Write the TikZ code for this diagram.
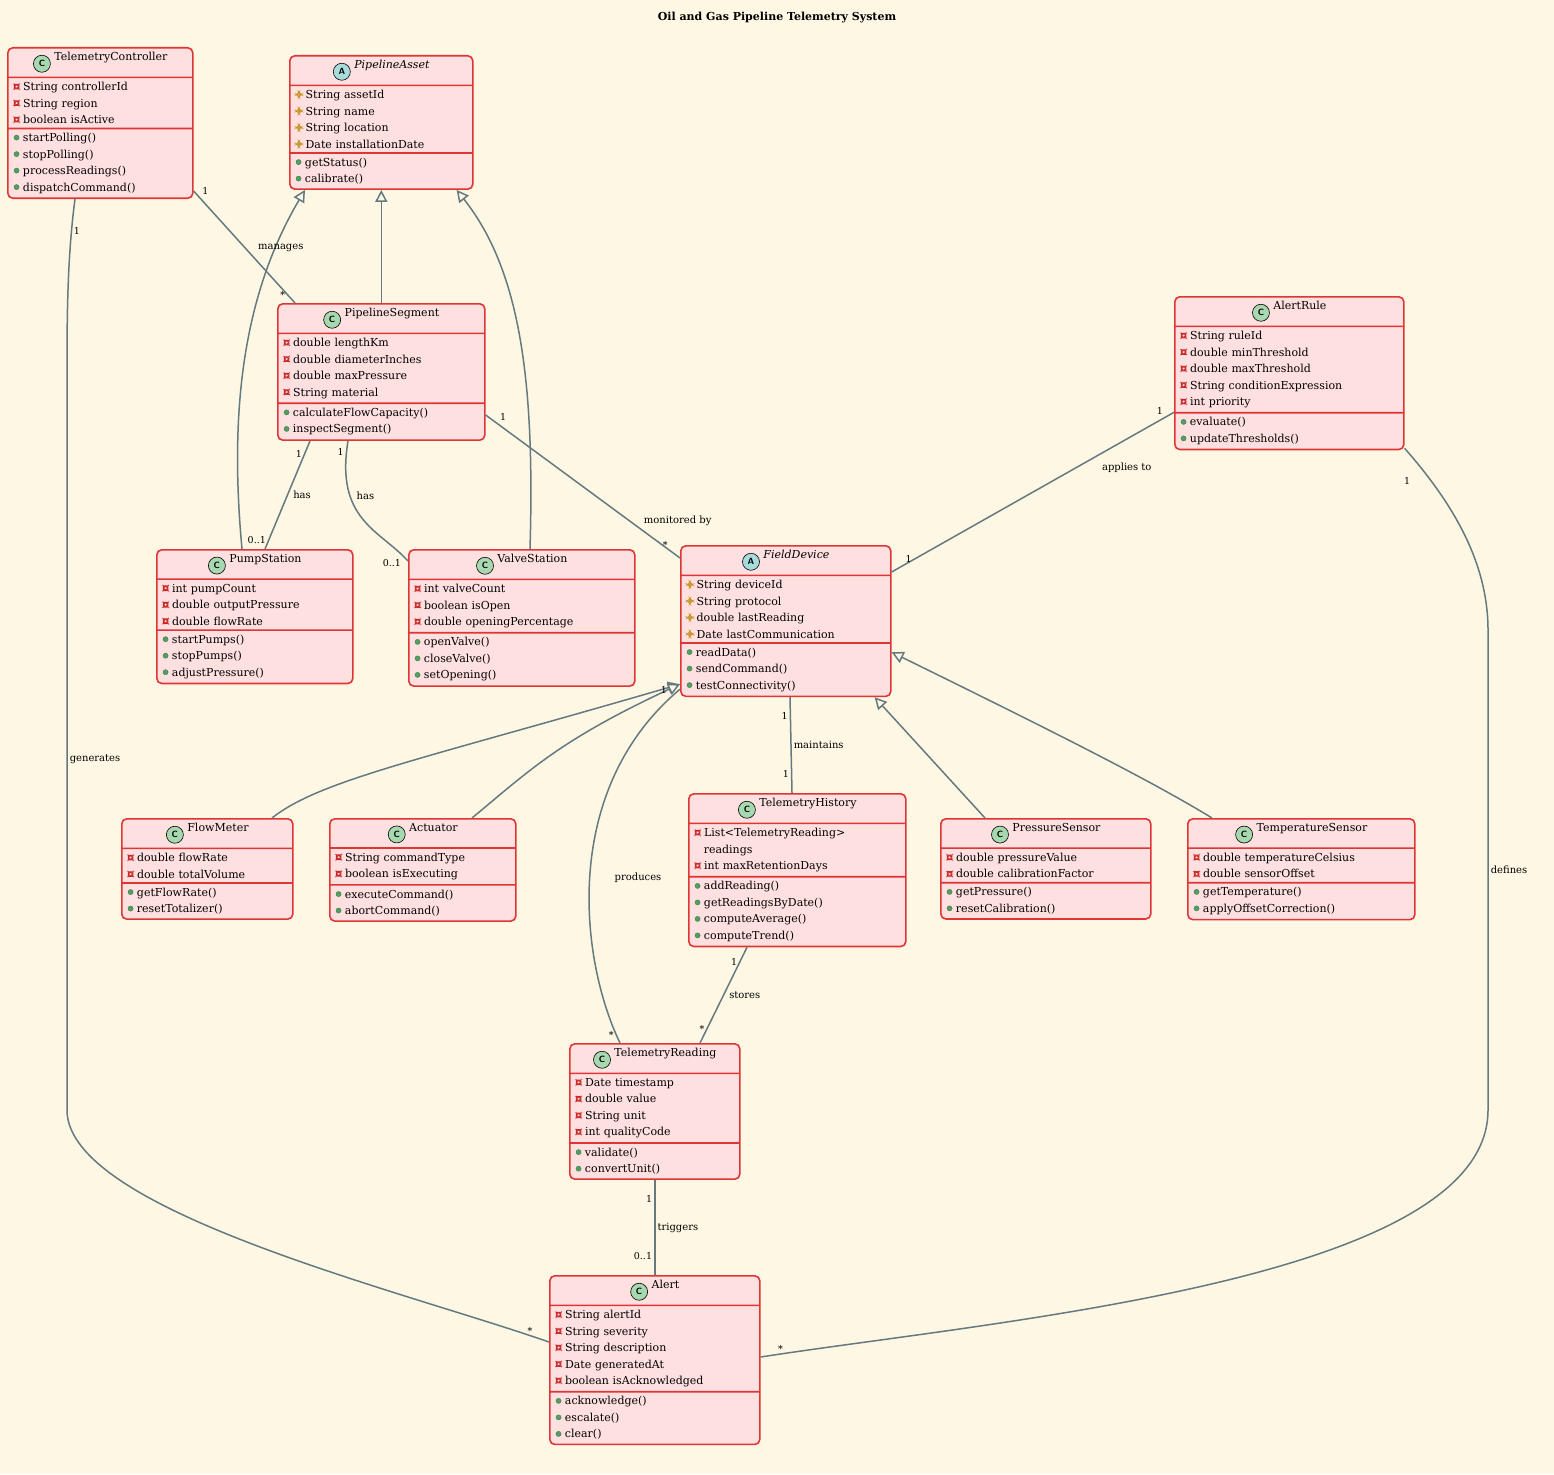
\documentclass[tikz,border=0pt]{standalone}
\usepackage{fontspec}
\setmainfont{DejaVu Serif}
\usetikzlibrary{arrows.meta,positioning,shapes.multipart,calc}
\definecolor{bgpaper}{HTML}{FEF7E4}
\definecolor{boxfill}{HTML}{FFE0E0}
\definecolor{boxline}{HTML}{E03535}
\definecolor{linkgray}{HTML}{657A80}
\definecolor{iconC}{HTML}{A8D8B0}
\definecolor{iconA}{HTML}{A8DCDC}
\definecolor{privred}{HTML}{C82828}
\definecolor{protyel}{HTML}{C89628}
\definecolor{pubgreen}{HTML}{50A060}
% visibility markers
\newcommand\pv{\tikz[baseline=-0.25ex]\draw[privred,line width=.6pt] (0,0) rectangle (5pt,5pt);\ }
\newcommand\pt{\tikz[baseline=-0.25ex]\draw[protyel,line width=.6pt] (2.8pt,-0.3pt) -- (5.6pt,2.5pt) -- (2.8pt,5.3pt) -- (0,2.5pt) -- cycle;\ }
\newcommand\pb{\tikz[baseline=-0.25ex]\fill[pubgreen,draw=pubgreen!70!black,line width=.3pt] (2.6pt,2.6pt) circle (2.6pt);\ }
% class icons
\newcommand\icon[2]{\tikz[baseline=-0.6ex]\node[circle,draw=black,line width=.6pt,fill=#1,inner sep=0pt,minimum size=17pt,font=\sffamily\bfseries\small]{#2};}
\newcommand\umlclass[7]{%
  \node[umlbox, text width=#3, anchor=north west] (#1) at (#2)
    {\centering #4\ #5\par\nodepart{two}#6\nodepart{three}#7};}
\tikzset{
    %Define style for class boxes
    umlbox/.style={
           rectangle split,
           rectangle split parts=3,
           rounded corners=5pt,
           draw=boxline, line width=1.6pt,
           fill=boxfill,
           inner xsep=6pt, inner ysep=4pt,
           align=left,
           font=\fontsize{11}{16.5}\selectfont},
    % Define link styles
    link/.style={draw=linkgray, line width=1.5pt},
    isa/.style={link, -{Triangle[open,length=12pt,width=12pt,fill=bgpaper]}},
    mult/.style={font=\fontsize{9.5}{11}\selectfont, inner sep=2pt},
    lbl/.style={font=\fontsize{10}{12}\selectfont, inner sep=2pt}
}
\begin{document}
\begin{tikzpicture}[x=1pt,y=-1pt]
\fill[bgpaper] (0,0) rectangle (1554,1474);
\useasboundingbox (0,0) rectangle (1554,1474);
\node[font=\fontsize{11}{13}\selectfont\bfseries] (title) at (777,18) {Oil and Gas Pipeline Telemetry System};
%top row
\umlclass{ctrl}{7,47}{173pt}{\icon{iconC}{C}}{TelemetryController}
  {\pv String controllerId\\\pv String region\\\pv boolean isActive}
  {\pb startPolling()\\\pb stopPolling()\\\pb processReadings()\\\pb dispatchCommand()}
\umlclass{asset}{289,55}{171pt}{\icon{iconA}{A}}{\textit{PipelineAsset}}
  {\pt String assetId\\\pt String name\\\pt String location\\\pt Date installationDate}
  {\pb getStatus()\\\pb calibrate()}
\umlclass{seg}{277,303}{195pt}{\icon{iconC}{C}}{PipelineSegment}
  {\pv double lengthKm\\\pv double diameterInches\\\pv double maxPressure\\\pv String material}
  {\pb calculateFlowCapacity()\\\pb inspectSegment()}
\umlclass{rule}{1174,296}{217pt}{\icon{iconC}{C}}{AlertRule}
  {\pv String ruleId\\\pv double minThreshold\\\pv double maxThreshold\\\pv String conditionExpression\\\pv int priority}
  {\pb evaluate()\\\pb updateThresholds()}
%stations and field device
\umlclass{pump}{156,549}{184pt}{\icon{iconC}{C}}{PumpStation}
  {\pv int pumpCount\\\pv double outputPressure\\\pv double flowRate}
  {\pb startPumps()\\\pb stopPumps()\\\pb adjustPressure()}
\umlclass{valve}{408,549}{214pt}{\icon{iconC}{C}}{ValveStation}
  {\pv int valveCount\\\pv boolean isOpen\\\pv double openingPercentage}
  {\pb openValve()\\\pb closeValve()\\\pb setOpening()}
\umlclass{dev}{680,545}{198pt}{\icon{iconA}{A}}{\textit{FieldDevice}}
  {\pt String deviceId\\\pt String protocol\\\pt double lastReading\\\pt Date lastCommunication}
  {\pb readData()\\\pb sendCommand()\\\pb testConnectivity()}
%device row
\umlclass{flow}{121,818}{159pt}{\icon{iconC}{C}}{FlowMeter}
  {\pv double flowRate\\\pv double totalVolume}
  {\pb getFlowRate()\\\pb resetTotalizer()}
\umlclass{act}{329,818}{174pt}{\icon{iconC}{C}}{Actuator}
  {\pv String commandType\\\pv boolean isExecuting}
  {\pb executeCommand()\\\pb abortCommand()}
\umlclass{hist}{688,793}{205pt}{\icon{iconC}{C}}{TelemetryHistory}
  {\pv List<TelemetryReading>\\\hspace*{9pt}readings\\\pv int maxRetentionDays}
  {\pb addReading()\\\pb getReadingsByDate()\\\pb computeAverage()\\\pb computeTrend()}
\umlclass{press}{940,818}{198pt}{\icon{iconC}{C}}{PressureSensor}
  {\pv double pressureValue\\\pv double calibrationFactor}
  {\pb getPressure()\\\pb resetCalibration()}
\umlclass{temp}{1187,818}{215pt}{\icon{iconC}{C}}{TemperatureSensor}
  {\pv double temperatureCelsius\\\pv double sensorOffset}
  {\pb getTemperature()\\\pb applyOffsetCorrection()}
%readings and alerts
\umlclass{read}{569,1043}{158pt}{\icon{iconC}{C}}{TelemetryReading}
  {\pv Date timestamp\\\pv double value\\\pv String unit\\\pv int qualityCode}
  {\pb validate()\\\pb convertUnit()}
\umlclass{alert}{549,1275}{198pt}{\icon{iconC}{C}}{Alert}
  {\pv String alertId\\\pv String severity\\\pv String description\\\pv Date generatedAt\\\pv boolean isAcknowledged}
  {\pb acknowledge()\\\pb escalate()\\\pb clear()}
%inheritance
\draw[isa] (seg.north) -- (seg.north |- asset.south);
\draw[isa] ($(pump.north west)+(86,0)$) .. controls (230,420) and (240,300) .. ($(asset.south west)+(16,0)$);
\draw[isa] ($(valve.north west)+(122,0)$) .. controls (535,380) and (520,270) .. ($(asset.south east)+(-17,0)$);
\draw[isa] ($(flow.north west)+(151,0)$) .. controls (320,780) and (420,760) .. ($(dev.south west)+(0,-13)$);
\draw[isa] ($(act.north west)+(143,0)$) .. controls (530,770) and (560,740) .. ($(dev.south west)+(0,-13)$);
\draw[isa] ($(press.north west)+(45,0)$) -- ($(dev.south east)+(-17,0)$);
\draw[isa] ($(temp.north west)+(25,0)$) .. controls (1150,780) and (1050,730) .. ($(dev.south east)+(0,-45)$);
%associations
\draw[link] ($(ctrl.south east)+(0,-8)$) -- node[lbl,pos=.55,above right=-2pt and 6pt]{manages}
  node[mult,pos=.06,above right]{1} node[mult,pos=.93,left]{*} ($(seg.north west)+(18,0)$);
\draw[link] ($(ctrl.south west)+(68,0)$) .. controls (67,260) and (67,320) .. (67,380)
  -- node[lbl,pos=.52,right]{generates} (67,1110)
  .. controls (67,1210) and (400,1290) .. ($(alert.north west)+(0,67)$)
  node[mult,pos=.97,above left]{*};
\node[mult] (ctrlone) at (77,231) {1};
\draw[link] ($(seg.south west)+(33,0)$) -- node[lbl,pos=.5,right=3pt]{has}
  node[mult,pos=.12,left]{1} node[mult,pos=.92,left]{0..1} ($(pump.north west)+(109,0)$);
\draw[link] ($(seg.south west)+(71,0)$) .. controls (335,520) and (380,530) .. ($(valve.north west)+(0,12)$)
  node[mult,pos=0.05,left]{1} node[lbl,pos=.3,right=4pt]{has} node[mult,pos=.95,below left]{0..1};
\draw[link] ($(seg.south east)+(0,-26)$) -- node[lbl,pos=.78,above right=-2pt and 4pt]{monitored by}
  node[mult,pos=.06,above right]{1} node[mult,pos=.95,above left]{*} ($(dev.north west)+(0,13)$);
\draw[link] ($(rule.south west)+(0,-38)$) -- node[lbl,pos=.3,below right=0pt and 10pt]{applies to}
  node[mult,pos=.03,above left]{1} node[mult,pos=.96,above right]{1} ($(dev.north east)+(0,27)$);
\draw[link] ($(rule.south east)+(0,-2)$) .. controls (1450,500) and (1488,560) .. (1488,630)
  -- node[lbl,pos=.5,right]{defines} (1488,1110)
  .. controls (1488,1280) and (1000,1320) .. ($(alert.north east)+(0,82)$)
  node[mult,pos=.98,above right]{*};
\node[mult] (ruleone) at (1407,481) {1};
\draw[link] ($(read.north west)+(51,0)$) .. controls (580,960) and (560,790) .. ($(dev.south west)+(0,-8)$)
  node[mult,pos=.03,left]{*} node[mult,pos=.97,above left=2pt and 0pt]{1};
\node[lbl] (prodlbl) at (638,878) {produces};
\draw[link] ($(dev.south west)+(110,0)$) -- node[lbl,pos=.5,right]{maintains}
  node[mult,pos=.2,left]{1} node[mult,pos=.8,left]{1} ($(hist.north west)+(104,0)$);
\draw[link] ($(hist.south west)+(59,0)$) -- node[lbl,pos=.5,right=3pt]{stores}
  node[mult,pos=.15,left]{1} node[mult,pos=.85,left]{*} ($(read.north west)+(131,0)$);
\draw[link] (read.south) -- node[lbl,pos=.5,right]{triggers}
  node[mult,pos=.2,left]{1} node[mult,pos=.8,left]{0..1} (read.south |- alert.north);
\end{tikzpicture}
\end{document}
